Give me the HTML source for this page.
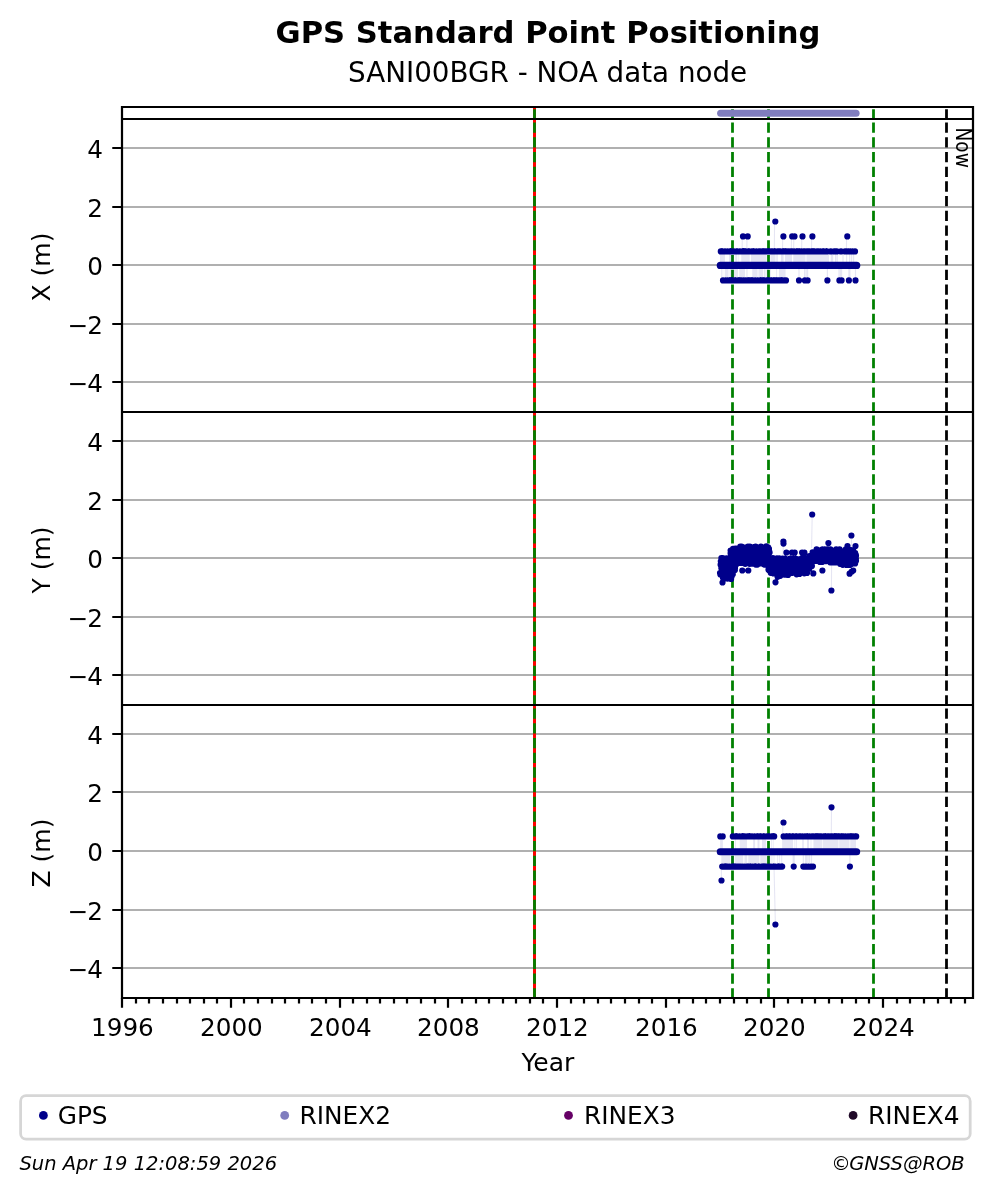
<!DOCTYPE html>
<html lang="en"><head><meta charset="utf-8"><title>GPS Standard Point Positioning</title>
<style>html,body{margin:0;padding:0;background:#fff}svg{display:block}</style></head>
<body>
<svg width="993" height="1194" viewBox="0 0 993 1194" font-family="'DejaVu Sans', 'Liberation Sans', sans-serif">
<rect width="993" height="1194" fill="#fff"/>
<path d="M122.0 148.00H973.0M122.0 207.00H973.0M122.0 265.00H973.0M122.0 324.00H973.0M122.0 382.00H973.0M122.0 441.00H973.0M122.0 500.00H973.0M122.0 558.00H973.0M122.0 617.00H973.0M122.0 675.00H973.0M122.0 734.00H973.0M122.0 792.00H973.0M122.0 851.00H973.0M122.0 910.00H973.0M122.0 968.00H973.0" stroke="#b0b0b0" stroke-width="2.22" fill="none"/>
<path d="M534.50 119.45V107.45M534.50 412.45V119.45M534.50 705.45V412.45M534.50 998.45V705.45" stroke="#ff0000" stroke-width="3.0" fill="none"/>
<path d="M534.50 119.45V107.45M534.50 412.45V119.45M534.50 705.45V412.45M534.50 998.45V705.45" stroke="#008000" stroke-width="2.78" fill="none" stroke-dasharray="10.28 4.44"/>
<path d="M732.50 119.45V107.45M732.50 412.45V119.45M732.50 705.45V412.45M732.50 998.45V705.45" stroke="#008000" stroke-width="2.78" fill="none" stroke-dasharray="10.28 4.44"/>
<path d="M768.50 119.45V107.45M768.50 412.45V119.45M768.50 705.45V412.45M768.50 998.45V705.45" stroke="#008000" stroke-width="2.78" fill="none" stroke-dasharray="10.28 4.44"/>
<path d="M873.50 119.45V107.45M873.50 412.45V119.45M873.50 705.45V412.45M873.50 998.45V705.45" stroke="#008000" stroke-width="2.78" fill="none" stroke-dasharray="10.28 4.44"/>
<path d="M946.50 119.45V107.45M946.50 412.45V119.45M946.50 705.45V412.45M946.50 998.45V705.45" stroke="#000" stroke-width="2.78" fill="none" stroke-dasharray="10.28 4.44"/>
<path d="M720.0 251.4H725.0V265.4H720.0ZM729.0 251.4H733.8V265.4H729.0ZM735.2 251.4H737.2V265.4H735.2ZM738.4 251.4H738.9V265.4H738.4ZM741.2 251.4H749.8V265.4H741.2ZM751.0 251.4H766.5V265.4H751.0ZM770.5 251.4H775.5V265.4H770.5ZM776.3 251.4H777.8V265.4H776.3ZM781.0 251.4H783.6V265.4H781.0ZM785.0 251.4H792.0V265.4H785.0ZM793.2 251.4H805.5V265.4H793.2ZM806.4 251.4H829.0V265.4H806.4ZM830.8 251.4H832.0V265.4H830.8ZM832.0 251.4H833.2V265.4H832.0ZM835.0 251.4H836.2V265.4H835.0ZM836.6 251.4H837.8V265.4H836.6ZM842.4 251.4H843.6V265.4H842.4ZM846.0 251.4H847.2V265.4H846.0ZM849.0 251.4H850.2V265.4H849.0ZM851.0 251.4H852.2V265.4H851.0ZM853.0 251.4H854.2V265.4H853.0ZM721.0 265.4H721.8V280.4H721.0ZM722.6 265.4H723.2V280.4H722.6ZM724.8 265.4H728.5V280.4H724.8ZM729.6 265.4H738.0V280.4H729.6ZM739.2 265.4H745.0V280.4H739.2ZM746.0 265.4H746.6V280.4H746.0ZM747.4 265.4H747.9V280.4H747.4ZM752.2 265.4H757.6V280.4H752.2ZM758.4 265.4H763.2V280.4H758.4ZM764.0 265.4H765.6V280.4H764.0ZM766.4 265.4H768.6V280.4H766.4ZM770.2 265.4H771.0V280.4H770.2ZM776.0 265.4H776.8V280.4H776.0ZM779.0 265.4H785.6V280.4H779.0ZM798.4 265.4H799.6V280.4H798.4ZM804.0 265.4H805.2V280.4H804.0ZM805.6 265.4H806.8V280.4H805.6ZM807.0 265.4H808.2V280.4H807.0ZM826.8 265.4H828.0V280.4H826.8ZM838.4 265.4H839.6V280.4H838.4ZM839.8 265.4H841.0V280.4H839.8ZM841.0 265.4H842.2V280.4H841.0ZM848.3 265.4H849.5V280.4H848.3ZM849.3 265.4H850.5V280.4H849.3ZM854.9 265.4H856.1V280.4H854.9ZM720.1 836.4H722.9V851.6H720.1ZM735.0 836.4H735.8V851.6H735.0ZM739.8 836.4H747.0V851.6H739.8ZM753.1 836.4H755.1V851.6H753.1ZM757.5 836.4H759.5V851.6H757.5ZM762.0 836.4H766.0V851.6H762.0ZM771.0 836.4H771.8V851.6H771.0ZM772.8 836.4H773.6V851.6H772.8ZM782.1 836.4H793.0V851.6H782.1ZM794.5 836.4H795.3V851.6H794.5ZM796.2 836.4H797.0V851.6H796.2ZM802.2 836.4H803.8V851.6H802.2ZM807.0 836.4H809.0V851.6H807.0ZM810.6 836.4H811.4V851.6H810.6ZM813.4 836.4H822.0V851.6H813.4ZM822.6 836.4H838.5V851.6H822.6ZM839.2 836.4H849.5V851.6H839.2ZM850.2 836.4H856.0V851.6H850.2ZM721.3 851.6H730.1V866.6H721.3ZM731.2 851.6H734.2V866.6H731.2ZM735.0 851.6H743.3V866.6H735.0ZM744.4 851.6H747.2V866.6H744.4ZM748.2 851.6H759.4V866.6H748.2ZM760.2 851.6H766.8V866.6H760.2ZM767.6 851.6H770.4V866.6H767.6ZM771.4 851.6H772.4V866.6H771.4ZM773.6 851.6H774.4V866.6H773.6ZM777.3 851.6H778.1V866.6H777.3ZM779.2 851.6H780.0V866.6H779.2ZM781.2 851.6H782.2V866.6H781.2ZM792.6 851.6H793.8V866.6H792.6ZM793.6 851.6H794.8V866.6H793.6ZM802.7 851.6H803.9V866.6H802.7ZM804.9 851.6H806.1V866.6H804.9ZM806.0 851.6H807.2V866.6H806.0ZM807.4 851.6H808.6V866.6H807.4ZM808.9 851.6H810.1V866.6H808.9ZM810.9 851.6H812.1V866.6H810.9ZM849.3 851.6H850.5V866.6H849.3Z" fill="rgba(0,0,139,0.1)" fill-rule="nonzero"/>
<path d="M742.3 236.4L742.1 251.4M747.0 236.4L746.8 251.4M782.7 236.4L782.5 251.4M791.5 236.4L791.3 251.4M793.8 236.4L793.6 251.4M801.8 236.4L801.6 251.4M811.7 236.4L811.5 251.4M846.6 236.4L846.4 251.4M774.6 221.5L774.3 251.4M812.2 514.5L811.6 548.0M831.4 590.5L831.6 564.0M851.4 535.5L851.6 548.0M783.4 542.4L783.0 556.0M813.3 573.4L812.2 565.0M775.5 582.3L775.0 575.0M721.5 880.5L721.3 866.6M783.0 822.5L782.6 836.4M831.5 807.3L831.3 836.4M775.4 924.5L774.0 866.6" stroke="rgba(0,0,139,0.1)" stroke-width="1.1" fill="none"/>
<path d="M720.8 251.4h0M721.8 251.4h0M722.5 251.4h0M725.0 251.4h0M727.5 251.4h0M730.0 251.4h0M730.7 251.4h0M731.4 251.4h0M733.9 251.4h0M736.4 251.4h0M737.4 251.4h0M739.9 251.4h0M742.4 251.4h0M743.1 251.4h0M743.8 251.4h0M744.8 251.4h0M745.8 251.4h0M748.3 251.4h0M749.3 251.4h0M751.8 251.4h0M753.2 251.4h0M753.9 251.4h0M756.4 251.4h0M758.9 251.4h0M760.3 251.4h0M762.2 251.4h0M763.2 251.4h0M764.2 251.4h0M765.6 251.4h0M767.0 251.4h0M768.4 251.4h0M769.1 251.4h0M771.0 251.4h0M772.4 251.4h0M774.3 251.4h0M775.0 251.4h0M777.5 251.4h0M778.9 251.4h0M780.3 251.4h0M782.8 251.4h0M783.5 251.4h0M784.9 251.4h0M785.6 251.4h0M787.0 251.4h0M788.9 251.4h0M790.8 251.4h0M792.2 251.4h0M794.1 251.4h0M796.6 251.4h0M797.3 251.4h0M798.7 251.4h0M799.7 251.4h0M801.6 251.4h0M803.5 251.4h0M804.9 251.4h0M806.8 251.4h0M808.2 251.4h0M809.6 251.4h0M811.5 251.4h0M812.5 251.4h0M813.5 251.4h0M814.5 251.4h0M817.0 251.4h0M818.4 251.4h0M820.3 251.4h0M822.8 251.4h0M823.8 251.4h0M826.3 251.4h0M826.8 251.4h0M830.8 251.4h0M834.2 251.4h0M835.5 251.4h0M836.8 251.4h0M841.0 251.4h0M845.1 251.4h0M846.8 251.4h0M848.6 251.4h0M850.4 251.4h0M852.6 251.4h0M855.0 251.4h0M723.0 280.4h0M725.5 280.4h0M727.4 280.4h0M729.3 280.4h0M730.0 280.4h0M731.0 280.4h0M731.7 280.4h0M732.4 280.4h0M734.9 280.4h0M735.6 280.4h0M738.1 280.4h0M739.1 280.4h0M740.1 280.4h0M741.5 280.4h0M743.4 280.4h0M745.3 280.4h0M747.2 280.4h0M748.6 280.4h0M749.3 280.4h0M750.7 280.4h0M751.7 280.4h0M752.7 280.4h0M755.2 280.4h0M757.7 280.4h0M760.2 280.4h0M760.9 280.4h0M762.3 280.4h0M763.3 280.4h0M764.3 280.4h0M766.8 280.4h0M767.8 280.4h0M768.8 280.4h0M770.7 280.4h0M771.7 280.4h0M773.6 280.4h0M774.3 280.4h0M775.7 280.4h0M776.7 280.4h0M778.1 280.4h0M779.5 280.4h0M780.9 280.4h0M781.6 280.4h0M782.6 280.4h0M784.5 280.4h0M786.0 280.4h0M799.0 280.4h0M804.9 280.4h0M807.6 280.4h0M827.4 280.4h0M839.4 280.4h0M841.6 280.4h0M848.9 280.4h0M855.5 280.4h0M743.0 236.4h0M747.7 236.4h0M783.4 236.4h0M792.2 236.4h0M794.5 236.4h0M802.5 236.4h0M812.4 236.4h0M847.3 236.4h0M775.3 221.5h0" stroke="#00008b" stroke-width="6.2" stroke-linecap="round" fill="none"/>
<path d="M720.6 564.7h0M720.8 561.3h0M721.3 567.9h0M721.4 560.3h0M721.8 565.1h0M722.0 563.4h0M722.6 567.0h0M722.3 560.0h0M723.3 566.8h0M722.8 561.1h0M723.4 568.0h0M723.8 560.3h0M724.4 568.0h0M724.3 560.0h0M721.4 558.1h0M722.7 558.1h0M722.7 568.1h0M720.4 574.3h0M720.0 573.1h0M721.0 574.1h0M720.8 572.8h0M721.1 573.8h0M721.6 572.2h0M722.2 574.3h0M722.2 572.8h0M722.4 574.1h0M722.6 573.6h0M723.4 574.4h0M723.4 572.9h0M723.6 576.2h0M723.6 573.0h0M724.5 576.7h0M724.4 573.3h0M721.9 570.1h0M723.8 571.2h0M720.4 574.4h0M723.0 577.8h0M724.5 575.3h0M724.6 572.0h0M724.5 568.6h0M724.8 564.9h0M724.7 560.4h0M725.0 574.1h0M725.4 571.9h0M724.9 567.2h0M725.1 566.2h0M724.9 562.7h0M725.8 577.3h0M725.9 571.1h0M725.8 569.7h0M725.5 564.2h0M726.0 559.7h0M726.6 576.8h0M726.3 572.5h0M726.5 566.7h0M726.3 566.1h0M726.2 561.1h0M726.8 577.0h0M726.6 571.4h0M726.9 568.3h0M726.8 566.6h0M726.9 560.7h0M727.8 577.5h0M727.8 571.1h0M727.4 570.0h0M727.7 566.5h0M727.3 562.0h0M728.3 576.2h0M728.0 571.1h0M728.4 569.8h0M728.2 564.6h0M727.8 562.7h0M728.7 575.3h0M729.0 573.8h0M728.9 568.1h0M728.9 566.4h0M728.9 562.8h0M729.2 576.2h0M729.6 572.1h0M729.1 569.5h0M729.1 564.8h0M729.1 562.6h0M729.7 577.7h0M729.8 573.0h0M729.8 567.7h0M729.7 564.9h0M729.6 561.7h0M730.2 577.0h0M730.5 571.5h0M730.5 569.8h0M730.3 563.3h0M730.5 560.0h0M731.3 576.2h0M731.1 572.8h0M731.4 568.0h0M731.3 565.5h0M731.2 560.4h0M731.6 576.5h0M731.5 574.1h0M731.8 570.3h0M731.5 565.9h0M731.9 562.8h0M726.4 558.4h0M729.1 558.4h0M730.5 557.6h0M725.5 578.4h0M727.6 578.6h0M731.1 578.9h0M731.9 569.8h0M731.7 568.3h0M732.0 564.5h0M731.8 560.3h0M732.3 570.9h0M732.4 568.2h0M732.3 564.0h0M732.5 561.8h0M733.3 571.3h0M733.4 566.7h0M733.3 562.7h0M733.1 558.4h0M734.1 570.0h0M733.9 566.2h0M733.5 559.3h0M734.6 567.1h0M734.5 563.6h0M734.2 558.3h0M735.0 567.9h0M735.2 562.3h0M735.1 558.0h0M734.0 555.9h0M735.5 555.3h0M732.8 574.3h0M734.9 570.0h0M730.7 556.1h0M730.6 553.2h0M731.4 558.0h0M731.2 552.7h0M731.9 556.4h0M731.9 554.7h0M732.1 557.5h0M732.5 553.8h0M733.1 557.8h0M733.0 550.8h0M733.6 557.2h0M733.8 551.6h0M734.3 556.2h0M734.0 554.1h0M734.9 558.0h0M734.8 552.9h0M730.6 550.5h0M733.0 548.9h0M732.1 559.2h0M735.0 560.2h0M734.8 560.1h0M734.8 553.6h0M735.3 548.6h0M735.6 562.2h0M735.9 553.9h0M735.5 551.0h0M736.5 561.3h0M736.2 556.7h0M736.2 552.4h0M736.6 557.9h0M736.8 553.9h0M736.9 549.0h0M737.6 561.1h0M737.1 555.4h0M737.4 553.0h0M737.9 560.1h0M737.9 557.0h0M738.2 551.6h0M738.8 562.2h0M738.4 553.8h0M738.7 548.8h0M739.1 558.1h0M739.1 555.9h0M739.3 548.4h0M739.8 560.5h0M739.5 556.3h0M740.0 552.6h0M740.7 560.9h0M740.3 556.4h0M740.2 550.7h0M741.3 560.4h0M741.2 553.5h0M741.2 550.1h0M741.6 557.8h0M741.3 554.3h0M741.6 549.6h0M742.3 558.7h0M741.9 556.2h0M742.0 548.8h0M742.7 560.0h0M742.9 556.2h0M742.7 548.5h0M743.3 559.1h0M743.3 555.0h0M743.2 552.2h0M744.2 561.1h0M743.8 555.3h0M744.3 548.8h0M744.4 560.0h0M744.4 556.6h0M744.4 551.4h0M745.1 561.0h0M745.4 554.9h0M745.1 549.5h0M745.8 560.2h0M745.7 555.8h0M745.7 552.7h0M746.2 557.6h0M746.5 555.2h0M746.2 549.0h0M746.8 560.8h0M747.0 555.7h0M747.2 548.6h0M747.3 558.1h0M747.7 557.3h0M747.6 548.8h0M747.9 559.3h0M748.5 555.7h0M748.4 549.2h0M748.6 557.6h0M748.6 557.0h0M748.9 550.5h0M749.5 557.7h0M749.6 554.5h0M749.4 550.8h0M750.2 561.8h0M750.3 556.4h0M749.9 550.0h0M750.5 561.4h0M750.7 554.5h0M750.3 552.4h0M751.2 559.6h0M751.0 555.7h0M750.9 550.2h0M751.8 560.6h0M751.9 553.1h0M751.8 548.9h0M752.2 560.9h0M752.5 553.0h0M752.1 551.5h0M753.1 559.7h0M752.9 555.5h0M753.3 549.8h0M753.3 560.9h0M753.6 555.9h0M753.4 549.8h0M754.3 558.3h0M754.0 555.1h0M754.1 548.5h0M754.6 558.2h0M755.0 556.4h0M755.1 551.5h0M755.2 559.6h0M755.4 556.4h0M755.7 549.8h0M755.9 561.2h0M756.3 556.4h0M755.7 552.2h0M756.5 561.6h0M756.8 553.3h0M756.9 549.5h0M757.1 557.6h0M757.5 556.5h0M756.9 549.4h0M757.7 558.8h0M757.7 555.6h0M757.5 552.0h0M758.3 560.6h0M758.2 553.0h0M758.2 548.4h0M759.2 560.2h0M759.0 553.6h0M759.0 552.6h0M759.9 560.1h0M759.5 556.4h0M759.3 548.7h0M760.4 560.0h0M759.9 553.8h0M759.9 552.6h0M760.7 557.6h0M761.0 553.9h0M760.7 551.2h0M761.5 557.5h0M761.5 556.1h0M761.3 551.3h0M762.2 561.8h0M762.1 553.1h0M761.7 548.5h0M762.6 560.7h0M762.9 552.9h0M762.5 551.0h0M763.2 559.8h0M763.0 553.1h0M763.3 549.1h0M764.0 558.0h0M763.7 554.5h0M763.7 551.3h0M764.1 558.2h0M764.6 556.3h0M764.1 551.6h0M765.0 561.6h0M765.3 555.8h0M765.3 548.7h0M765.4 560.5h0M765.6 556.8h0M765.6 549.5h0M766.2 560.7h0M766.3 554.4h0M766.4 549.3h0M766.6 558.7h0M766.7 553.4h0M766.7 550.2h0M767.2 558.4h0M767.2 556.1h0M767.6 552.0h0M767.9 559.1h0M768.3 555.4h0M767.8 550.4h0M736.8 548.8h0M740.3 546.7h0M741.6 546.7h0M744.8 547.5h0M746.2 547.5h0M748.0 546.6h0M749.8 546.6h0M753.1 547.4h0M755.6 546.5h0M757.9 547.4h0M760.9 546.5h0M762.5 547.4h0M764.3 547.3h0M766.3 546.4h0M768.1 547.3h0M736.6 564.0h0M739.7 563.0h0M741.9 563.0h0M743.7 563.0h0M745.2 563.8h0M748.2 561.7h0M749.7 563.8h0M752.8 563.7h0M755.5 563.7h0M758.2 561.6h0M761.1 561.5h0M764.6 562.6h0M766.8 563.5h0M754.9 561.3h0M755.2 557.8h0M754.9 551.1h0M755.7 562.9h0M755.3 558.7h0M755.6 551.5h0M756.1 560.3h0M756.2 555.8h0M755.9 554.6h0M756.9 561.4h0M756.6 555.7h0M756.7 552.7h0M757.2 561.6h0M757.4 558.3h0M757.2 551.4h0M758.2 561.7h0M757.8 555.5h0M758.3 554.8h0M758.6 559.6h0M758.9 559.3h0M758.8 553.7h0M759.4 561.1h0M759.4 558.8h0M759.1 554.4h0M760.0 560.2h0M759.6 558.7h0M759.8 553.6h0M760.2 562.1h0M760.5 558.5h0M760.1 551.5h0M761.2 561.4h0M761.2 559.4h0M761.1 554.8h0M761.7 561.4h0M761.6 558.2h0M761.6 552.9h0M762.2 561.0h0M761.9 557.7h0M762.2 552.7h0M763.0 562.7h0M762.8 556.2h0M762.8 554.6h0M763.2 563.3h0M763.2 557.7h0M763.4 553.5h0M764.1 563.5h0M764.1 559.2h0M764.0 552.1h0M764.6 563.5h0M764.9 557.9h0M764.8 554.7h0M757.2 549.4h0M758.9 551.4h0M760.9 549.4h0M763.7 549.4h0M755.8 564.6h0M757.4 564.6h0M760.8 563.4h0M762.4 563.4h0M764.2 564.6h0M767.4 554.3h0M767.4 551.6h0M768.0 553.0h0M768.0 551.4h0M768.6 552.6h0M768.4 550.8h0M769.6 552.5h0M769.3 551.6h0M769.0 548.9h0M768.7 553.8h0M768.5 569.7h0M768.4 566.2h0M768.3 562.8h0M769.3 570.2h0M769.1 564.1h0M769.1 562.1h0M770.0 567.6h0M770.0 564.1h0M769.9 561.2h0M770.3 570.2h0M770.4 565.2h0M770.1 562.5h0M771.1 569.3h0M770.7 567.2h0M770.9 561.7h0M771.6 569.1h0M771.5 565.8h0M771.5 563.2h0M770.4 558.4h0M770.7 572.8h0M771.7 569.9h0M772.1 567.2h0M772.2 562.8h0M772.3 567.9h0M772.8 564.5h0M772.6 561.5h0M773.2 569.4h0M773.0 565.9h0M772.9 563.9h0M773.6 571.7h0M774.0 567.2h0M773.9 563.5h0M774.2 569.3h0M774.4 566.3h0M774.5 561.4h0M775.1 570.3h0M774.7 565.9h0M775.3 561.5h0M775.6 569.1h0M775.5 565.8h0M775.8 562.3h0M776.3 571.7h0M776.5 567.3h0M776.3 563.0h0M777.0 571.6h0M777.1 564.4h0M776.5 563.0h0M777.5 569.6h0M777.7 565.4h0M777.3 560.2h0M778.2 568.5h0M778.0 567.8h0M778.2 563.5h0M778.4 568.9h0M778.8 567.6h0M778.5 563.4h0M779.1 569.9h0M779.5 564.8h0M779.4 560.2h0M779.8 570.2h0M779.5 566.2h0M780.1 564.1h0M780.6 571.5h0M780.3 565.1h0M780.4 561.9h0M780.7 571.8h0M781.1 567.9h0M781.3 563.6h0M781.3 569.7h0M781.7 567.9h0M781.3 564.2h0M782.4 572.4h0M782.0 565.4h0M782.2 560.4h0M783.0 569.9h0M782.9 565.4h0M782.6 562.8h0M783.1 571.9h0M783.6 564.6h0M783.2 561.3h0M784.1 569.7h0M783.8 566.6h0M784.1 561.2h0M784.5 571.6h0M784.5 567.6h0M784.3 560.6h0M785.4 569.7h0M785.3 565.5h0M785.1 562.5h0M786.0 569.8h0M785.8 568.6h0M785.8 564.1h0M786.4 572.8h0M786.6 565.8h0M786.3 562.2h0M787.0 571.2h0M787.2 567.6h0M786.9 564.4h0M787.7 572.7h0M787.9 565.4h0M787.9 562.1h0M788.2 571.0h0M788.4 568.3h0M788.0 560.7h0M789.1 572.6h0M788.8 565.7h0M788.8 560.5h0M789.3 572.9h0M789.7 568.6h0M789.5 560.9h0M772.9 558.2h0M775.1 559.1h0M777.0 558.3h0M779.1 558.4h0M782.5 558.5h0M785.0 558.6h0M787.1 559.5h0M789.6 560.8h0M773.6 573.5h0M776.0 572.9h0M778.6 574.0h0M780.6 574.2h0M783.1 573.6h0M785.0 574.7h0M788.0 574.9h0M775.9 573.2h0M776.3 571.2h0M776.9 574.3h0M776.4 568.7h0M777.0 573.0h0M777.0 571.4h0M777.7 574.1h0M777.6 571.0h0M778.3 572.1h0M778.4 569.1h0M779.2 574.9h0M778.8 570.5h0M779.5 571.9h0M779.5 571.7h0M779.9 572.6h0M780.4 571.0h0M780.9 572.7h0M781.0 569.8h0M781.5 572.8h0M781.5 569.1h0M781.8 573.0h0M781.8 571.2h0M782.5 573.4h0M782.8 569.6h0M783.1 574.0h0M783.0 569.6h0M783.8 572.1h0M784.0 571.6h0M784.5 573.1h0M784.6 569.1h0M784.7 573.6h0M785.2 569.2h0M785.5 574.3h0M785.7 571.0h0M778.1 566.9h0M780.6 566.9h0M783.7 569.0h0M777.6 576.8h0M780.3 575.8h0M782.8 574.5h0M785.7 574.3h0M789.9 570.4h0M789.8 565.8h0M789.9 560.6h0M790.5 573.1h0M790.3 567.3h0M790.6 563.0h0M791.1 570.3h0M791.0 567.8h0M791.5 561.6h0M791.6 570.9h0M791.7 565.5h0M791.6 563.8h0M792.6 569.8h0M792.4 566.2h0M792.2 562.3h0M792.9 568.9h0M793.2 566.1h0M793.0 561.2h0M793.6 571.7h0M793.8 568.2h0M793.8 563.1h0M794.1 571.7h0M794.2 567.6h0M793.9 563.7h0M794.7 569.8h0M794.7 567.6h0M794.8 562.5h0M795.5 570.1h0M795.7 567.1h0M795.1 560.9h0M796.2 569.2h0M795.8 565.3h0M796.1 561.0h0M796.3 572.5h0M796.7 564.6h0M796.4 563.3h0M797.0 571.9h0M797.1 565.2h0M797.4 563.7h0M797.6 569.2h0M797.9 564.7h0M797.9 561.1h0M798.6 568.7h0M798.2 564.9h0M798.4 561.5h0M799.0 569.2h0M799.0 564.7h0M798.8 563.1h0M799.6 571.6h0M799.6 567.9h0M799.6 563.6h0M800.2 570.1h0M799.9 564.7h0M800.2 560.8h0M800.9 569.8h0M800.7 564.7h0M801.1 562.4h0M801.5 571.6h0M801.1 565.5h0M801.5 561.7h0M801.9 568.2h0M802.0 564.1h0M802.2 562.1h0M802.7 571.6h0M802.5 565.4h0M802.5 560.6h0M803.2 569.8h0M803.0 564.8h0M803.2 562.2h0M804.0 569.5h0M804.0 566.6h0M803.8 562.3h0M804.4 570.5h0M804.5 563.9h0M804.3 560.8h0M804.9 570.2h0M805.1 565.4h0M804.7 560.8h0M805.8 568.6h0M805.3 565.5h0M805.3 562.6h0M806.5 570.6h0M806.3 565.2h0M806.4 560.8h0M806.9 568.9h0M806.9 565.1h0M806.9 561.5h0M807.5 570.3h0M807.6 565.7h0M807.2 563.3h0M790.1 558.7h0M793.4 558.6h0M795.5 558.6h0M798.6 559.3h0M801.8 558.4h0M804.1 559.2h0M805.4 558.2h0M807.8 558.2h0M791.7 572.9h0M794.3 572.5h0M796.6 574.3h0M799.4 573.9h0M801.8 571.6h0M804.3 573.3h0M807.0 572.9h0M808.0 567.3h0M808.1 565.8h0M808.2 558.5h0M808.4 568.0h0M808.5 563.4h0M808.6 559.4h0M809.5 565.3h0M809.3 563.1h0M809.0 558.4h0M809.7 563.1h0M809.8 559.0h0M810.6 562.9h0M810.1 556.6h0M810.7 565.3h0M811.1 556.1h0M811.5 561.6h0M811.7 558.3h0M812.4 559.3h0M812.1 556.2h0M812.9 558.6h0M812.6 556.2h0M813.2 557.8h0M813.2 553.4h0M814.0 557.8h0M814.0 553.6h0M814.8 559.3h0M814.5 554.9h0M809.4 556.2h0M812.6 552.3h0M809.3 568.6h0M811.9 565.9h0M814.1 560.9h0M815.2 556.0h0M814.7 554.3h0M815.6 558.8h0M815.8 552.9h0M815.9 556.0h0M816.4 551.9h0M816.8 556.1h0M817.0 554.3h0M817.5 556.4h0M817.3 551.5h0M818.0 559.7h0M817.8 552.0h0M818.9 556.7h0M818.7 554.5h0M819.2 557.0h0M819.1 554.7h0M820.0 556.7h0M819.6 553.5h0M820.6 556.5h0M820.4 554.6h0M821.2 556.1h0M821.0 553.3h0M821.4 557.5h0M821.4 554.8h0M822.1 557.0h0M822.1 553.1h0M822.6 557.9h0M823.1 555.5h0M823.2 558.6h0M823.6 552.8h0M824.1 559.6h0M824.0 554.1h0M824.3 560.2h0M824.8 551.2h0M825.2 558.1h0M825.4 554.5h0M826.1 558.4h0M826.0 552.2h0M826.3 555.9h0M826.2 555.6h0M826.8 559.6h0M827.0 555.5h0M827.6 556.4h0M827.8 551.4h0M828.3 560.2h0M828.0 553.9h0M828.7 556.0h0M828.9 553.2h0M829.5 556.0h0M829.4 554.0h0M830.3 559.8h0M829.8 551.2h0M830.5 560.4h0M830.8 554.2h0M831.4 556.3h0M831.4 555.6h0M831.9 557.3h0M831.5 551.2h0M832.6 560.0h0M832.5 551.4h0M833.1 559.3h0M832.8 552.3h0M833.5 559.2h0M833.6 555.3h0M834.0 559.9h0M834.3 555.2h0M834.9 560.7h0M834.5 555.0h0M835.2 556.3h0M835.6 551.4h0M835.8 556.5h0M835.8 553.8h0M836.8 556.3h0M836.6 552.9h0M837.4 559.2h0M837.3 553.7h0M837.6 560.2h0M837.9 555.7h0M838.2 558.2h0M838.3 551.8h0M838.8 558.9h0M839.2 554.7h0M839.4 559.3h0M839.5 553.6h0M840.0 556.5h0M839.9 551.2h0M840.9 556.6h0M840.8 555.0h0M841.3 559.6h0M841.3 555.1h0M842.3 556.1h0M841.8 551.5h0M842.8 559.6h0M842.7 555.8h0M843.5 559.6h0M843.4 556.0h0M843.6 559.4h0M844.0 556.1h0M844.2 558.5h0M844.6 554.0h0M845.0 560.1h0M844.8 555.5h0M845.7 557.3h0M845.3 555.2h0M846.3 560.8h0M846.1 553.7h0M846.9 560.2h0M847.0 552.6h0M847.2 558.3h0M847.5 555.9h0M848.1 559.2h0M848.2 555.9h0M848.8 559.6h0M848.6 551.8h0M849.4 561.3h0M849.4 553.8h0M849.6 560.0h0M849.7 552.0h0M850.3 560.6h0M850.1 553.2h0M851.0 558.8h0M850.8 553.6h0M851.8 557.8h0M851.5 551.8h0M852.1 557.8h0M851.9 552.4h0M853.1 557.0h0M852.8 553.7h0M853.4 558.8h0M853.7 556.2h0M853.8 560.4h0M853.9 555.8h0M854.3 557.3h0M854.7 555.9h0M854.9 560.6h0M855.2 553.2h0M855.9 558.9h0M856.0 555.8h0M816.6 549.4h0M818.5 551.4h0M820.9 550.2h0M822.5 549.4h0M824.7 549.4h0M827.2 549.4h0M830.4 549.4h0M833.2 551.4h0M836.2 549.4h0M839.6 549.4h0M842.9 551.4h0M845.8 549.4h0M848.0 549.4h0M851.0 550.2h0M853.2 550.2h0M816.9 560.9h0M820.0 561.9h0M822.0 562.0h0M825.4 561.2h0M827.3 560.1h0M830.1 562.3h0M832.2 562.4h0M833.7 560.4h0M835.4 562.5h0M837.2 560.6h0M840.7 560.7h0M843.4 562.9h0M844.8 562.1h0M848.2 562.2h0M850.9 563.2h0M853.5 562.4h0M855.1 563.4h0M837.9 558.1h0M838.1 556.3h0M838.7 562.3h0M838.6 553.1h0M839.2 561.5h0M839.0 555.2h0M839.6 562.3h0M839.7 556.5h0M840.2 561.5h0M840.4 557.5h0M841.1 558.8h0M841.1 555.1h0M841.7 562.0h0M841.6 555.7h0M842.2 559.9h0M842.0 556.4h0M842.8 561.9h0M842.9 556.1h0M843.3 563.0h0M843.2 553.7h0M844.0 560.3h0M844.3 556.6h0M844.8 561.6h0M844.3 557.3h0M845.2 558.7h0M845.1 557.8h0M845.9 560.9h0M845.6 557.6h0M846.5 558.3h0M846.3 557.4h0M847.1 561.4h0M847.2 555.1h0M847.6 559.1h0M847.7 554.5h0M848.2 559.4h0M848.3 554.3h0M848.6 558.6h0M848.5 553.9h0M849.5 559.4h0M849.7 555.7h0M850.0 560.4h0M850.2 554.3h0M850.5 560.2h0M850.6 556.0h0M851.1 559.7h0M851.2 556.3h0M851.7 561.4h0M852.0 554.4h0M852.4 560.8h0M852.3 557.4h0M853.0 562.6h0M852.8 555.4h0M853.5 558.8h0M853.8 554.2h0M854.0 558.6h0M854.4 556.3h0M854.5 563.3h0M854.8 555.6h0M855.6 558.8h0M855.7 555.7h0M856.0 560.8h0M855.9 555.0h0M838.8 552.0h0M841.1 551.2h0M843.9 551.3h0M845.4 552.2h0M847.9 551.4h0M851.1 553.6h0M853.5 553.7h0M840.0 563.8h0M842.8 564.8h0M844.5 563.9h0M846.6 564.9h0M849.8 565.0h0M851.3 564.1h0M854.2 563.1h0M722.5 582.5h0M742.3 570.5h0M748.3 570.5h0M775.5 582.3h0M783.4 541.6h0M783.5 543.6h0M786.4 552.5h0M792.0 552.5h0M794.7 552.5h0M802.1 552.5h0M804.4 552.5h0M812.2 514.5h0M828.4 543.1h0M851.4 535.5h0M847.5 546.0h0M855.5 546.0h0M813.3 573.4h0M822.4 570.5h0M831.4 590.5h0M849.6 573.7h0M853.2 570.5h0M851.5 571.8h0" stroke="#00008b" stroke-width="6.2" stroke-linecap="round" fill="none"/>
<path d="M720.3 836.4h0M722.7 836.4h0M732.8 836.4h0M735.3 836.4h0M736.3 836.4h0M737.0 836.4h0M739.5 836.4h0M742.0 836.4h0M742.7 836.4h0M743.4 836.4h0M744.8 836.4h0M747.3 836.4h0M748.7 836.4h0M749.4 836.4h0M750.1 836.4h0M752.0 836.4h0M754.5 836.4h0M757.0 836.4h0M758.0 836.4h0M759.9 836.4h0M760.9 836.4h0M763.4 836.4h0M764.1 836.4h0M766.6 836.4h0M768.5 836.4h0M769.2 836.4h0M771.7 836.4h0M772.7 836.4h0M773.7 836.4h0M774.2 836.4h0M783.6 836.4h0M786.1 836.4h0M787.1 836.4h0M789.0 836.4h0M790.0 836.4h0M792.5 836.4h0M793.2 836.4h0M795.7 836.4h0M796.7 836.4h0M799.2 836.4h0M800.6 836.4h0M802.5 836.4h0M805.0 836.4h0M806.9 836.4h0M807.6 836.4h0M809.5 836.4h0M812.0 836.4h0M813.4 836.4h0M815.3 836.4h0M816.3 836.4h0M817.3 836.4h0M818.3 836.4h0M819.7 836.4h0M821.1 836.4h0M823.6 836.4h0M825.0 836.4h0M825.7 836.4h0M827.6 836.4h0M829.0 836.4h0M830.9 836.4h0M832.3 836.4h0M834.2 836.4h0M834.9 836.4h0M835.9 836.4h0M836.9 836.4h0M838.3 836.4h0M839.3 836.4h0M841.2 836.4h0M842.2 836.4h0M843.6 836.4h0M845.5 836.4h0M848.0 836.4h0M849.9 836.4h0M850.9 836.4h0M851.9 836.4h0M853.3 836.4h0M855.2 836.4h0M856.2 836.4h0M722.2 866.6h0M724.1 866.6h0M725.1 866.6h0M725.8 866.6h0M726.5 866.6h0M727.9 866.6h0M729.8 866.6h0M732.3 866.6h0M733.0 866.6h0M733.7 866.6h0M734.7 866.6h0M735.4 866.6h0M736.8 866.6h0M738.2 866.6h0M739.6 866.6h0M741.0 866.6h0M742.9 866.6h0M744.8 866.6h0M746.7 866.6h0M747.7 866.6h0M748.7 866.6h0M750.1 866.6h0M750.8 866.6h0M752.7 866.6h0M754.6 866.6h0M755.3 866.6h0M756.0 866.6h0M758.5 866.6h0M759.2 866.6h0M761.7 866.6h0M762.7 866.6h0M763.7 866.6h0M764.4 866.6h0M765.4 866.6h0M766.4 866.6h0M768.9 866.6h0M770.8 866.6h0M773.3 866.6h0M774.0 866.6h0M775.4 866.6h0M777.9 866.6h0M778.6 866.6h0M779.3 866.6h0M780.7 866.6h0M782.1 866.6h0M782.2 866.6h0M793.7 866.6h0M803.3 866.6h0M806.0 866.6h0M808.5 866.6h0M811.0 866.6h0M813.0 866.6h0M849.9 866.6h0M721.5 880.5h0M783.5 822.5h0M831.5 807.3h0M775.4 924.5h0" stroke="#00008b" stroke-width="6.2" stroke-linecap="round" fill="none"/>
<path d="M720.3 265.4H856.7" stroke="#00008b" stroke-width="7.2" stroke-linecap="round" fill="none"/>
<path d="M720.2 851.65H856.7" stroke="#00008b" stroke-width="7.0" stroke-linecap="round" fill="none"/>
<path d="M720.6 113.3H856.1" stroke="#807dbe" stroke-width="7.0" stroke-linecap="round" fill="none"/>
<path d="M122.0 107.0H973.0V119.0H122.0ZM122.0 119.00H973.0V412.00H122.0ZM122.0 412.00H973.0V705.00H122.0ZM122.0 705.00H973.0V998.00H122.0Z" stroke="#000" stroke-width="2.22" fill="none" stroke-linejoin="miter"/>
<path d="M122.0 148.00h-9.72M122.0 207.00h-9.72M122.0 265.00h-9.72M122.0 324.00h-9.72M122.0 382.00h-9.72M122.0 441.00h-9.72M122.0 500.00h-9.72M122.0 558.00h-9.72M122.0 617.00h-9.72M122.0 675.00h-9.72M122.0 734.00h-9.72M122.0 792.00h-9.72M122.0 851.00h-9.72M122.0 910.00h-9.72M122.0 968.00h-9.72M122.00 998.00v9.72M136.00 998.00v5.56M149.00 998.00v5.56M163.00 998.00v5.56M177.00 998.00v5.56M190.00 998.00v5.56M204.00 998.00v5.56M217.00 998.00v5.56M231.00 998.00v9.72M244.00 998.00v5.56M258.00 998.00v5.56M272.00 998.00v5.56M285.00 998.00v5.56M299.00 998.00v5.56M312.00 998.00v5.56M326.00 998.00v5.56M340.00 998.00v9.72M353.00 998.00v5.56M367.00 998.00v5.56M380.00 998.00v5.56M394.00 998.00v5.56M407.00 998.00v5.56M421.00 998.00v5.56M435.00 998.00v5.56M448.00 998.00v9.72M462.00 998.00v5.56M476.00 998.00v5.56M489.00 998.00v5.56M503.00 998.00v5.56M516.00 998.00v5.56M530.00 998.00v5.56M543.00 998.00v5.56M557.00 998.00v9.72M571.00 998.00v5.56M584.00 998.00v5.56M598.00 998.00v5.56M611.00 998.00v5.56M625.00 998.00v5.56M639.00 998.00v5.56M652.00 998.00v5.56M666.00 998.00v9.72M679.00 998.00v5.56M693.00 998.00v5.56M706.00 998.00v5.56M720.00 998.00v5.56M734.00 998.00v5.56M747.00 998.00v5.56M761.00 998.00v5.56M774.00 998.00v9.72M788.00 998.00v5.56M802.00 998.00v5.56M815.00 998.00v5.56M829.00 998.00v5.56M842.00 998.00v5.56M856.00 998.00v5.56M869.00 998.00v5.56M883.00 998.00v9.72M897.00 998.00v5.56M910.00 998.00v5.56M924.00 998.00v5.56M938.00 998.00v5.56M951.00 998.00v5.56M965.00 998.00v5.56" stroke="#000" stroke-width="2.22" fill="none"/>
<text x="548.00" y="43.20" font-size="30.62" text-anchor="middle" font-weight="bold">GPS Standard Point Positioning</text>
<text x="547.65" y="81.70" font-size="27.78" text-anchor="middle">SANI00BGR - NOA data node</text>
<text x="102.90" y="157.60" font-size="24.7" text-anchor="end">4</text>
<text x="102.90" y="216.60" font-size="24.7" text-anchor="end">2</text>
<text x="102.90" y="274.60" font-size="24.7" text-anchor="end">0</text>
<text x="102.90" y="333.60" font-size="24.7" text-anchor="end" dx="0 -1.0">−2</text>
<text x="102.90" y="391.60" font-size="24.7" text-anchor="end" dx="0 -1.0">−4</text>
<text x="102.90" y="450.60" font-size="24.7" text-anchor="end">4</text>
<text x="102.90" y="509.60" font-size="24.7" text-anchor="end">2</text>
<text x="102.90" y="567.60" font-size="24.7" text-anchor="end">0</text>
<text x="102.90" y="626.60" font-size="24.7" text-anchor="end" dx="0 -1.0">−2</text>
<text x="102.90" y="684.60" font-size="24.7" text-anchor="end" dx="0 -1.0">−4</text>
<text x="102.90" y="743.60" font-size="24.7" text-anchor="end">4</text>
<text x="102.90" y="801.60" font-size="24.7" text-anchor="end">2</text>
<text x="102.90" y="860.60" font-size="24.7" text-anchor="end">0</text>
<text x="102.90" y="919.60" font-size="24.7" text-anchor="end" dx="0 -1.0">−2</text>
<text x="102.90" y="977.60" font-size="24.7" text-anchor="end" dx="0 -1.0">−4</text>
<text x="122.40" y="1036.00" font-size="24.7" text-anchor="middle">1996</text>
<text x="231.40" y="1036.00" font-size="24.7" text-anchor="middle">2000</text>
<text x="340.40" y="1036.00" font-size="24.7" text-anchor="middle">2004</text>
<text x="448.40" y="1036.00" font-size="24.7" text-anchor="middle">2008</text>
<text x="557.40" y="1036.00" font-size="24.7" text-anchor="middle">2012</text>
<text x="666.40" y="1036.00" font-size="24.7" text-anchor="middle">2016</text>
<text x="774.40" y="1036.00" font-size="24.7" text-anchor="middle">2020</text>
<text x="883.40" y="1036.00" font-size="24.7" text-anchor="middle">2024</text>
<text x="547.90" y="1070.60" font-size="25.0" text-anchor="middle">Year</text>
<text transform="translate(50.1 267.00) rotate(-90)" font-size="25.0" text-anchor="middle">X (m)</text>
<text transform="translate(50.1 560.00) rotate(-90)" font-size="25.0" text-anchor="middle">Y (m)</text>
<text transform="translate(50.1 853.00) rotate(-90)" font-size="25.0" text-anchor="middle">Z (m)</text>
<text transform="translate(956.3 127.4) rotate(90) scale(0.885 1)" font-size="21" text-anchor="start">Now</text>
<rect x="20.6" y="1095.7" width="949.6" height="43.5" rx="5.5" ry="5.5" fill="#fff" stroke="#d6d6d6" stroke-width="2.78"/>
<circle cx="43.4" cy="1115.4" r="4.4" fill="#00008b"/>
<text x="57.70" y="1124.20" font-size="24.8" text-anchor="start">GPS</text>
<circle cx="284.7" cy="1115.4" r="4.4" fill="#807dbe"/>
<text x="299.45" y="1124.20" font-size="24.8" text-anchor="start">RINEX2</text>
<circle cx="568.5" cy="1115.4" r="4.4" fill="#660066"/>
<text x="584.00" y="1124.20" font-size="24.8" text-anchor="start">RINEX3</text>
<circle cx="853.1" cy="1115.4" r="4.4" fill="#200a28"/>
<text x="868.05" y="1124.20" font-size="24.8" text-anchor="start">RINEX4</text>
<text x="19.40" y="1169.80" font-size="19.5" text-anchor="start" font-style="italic">Sun Apr 19 12:08:59 2026</text>
<text x="963.20" y="1169.50" font-size="19.5" text-anchor="end" font-style="italic" dx="1.5 -1.5">©GNSS@ROB</text>
</svg>
</body></html>
